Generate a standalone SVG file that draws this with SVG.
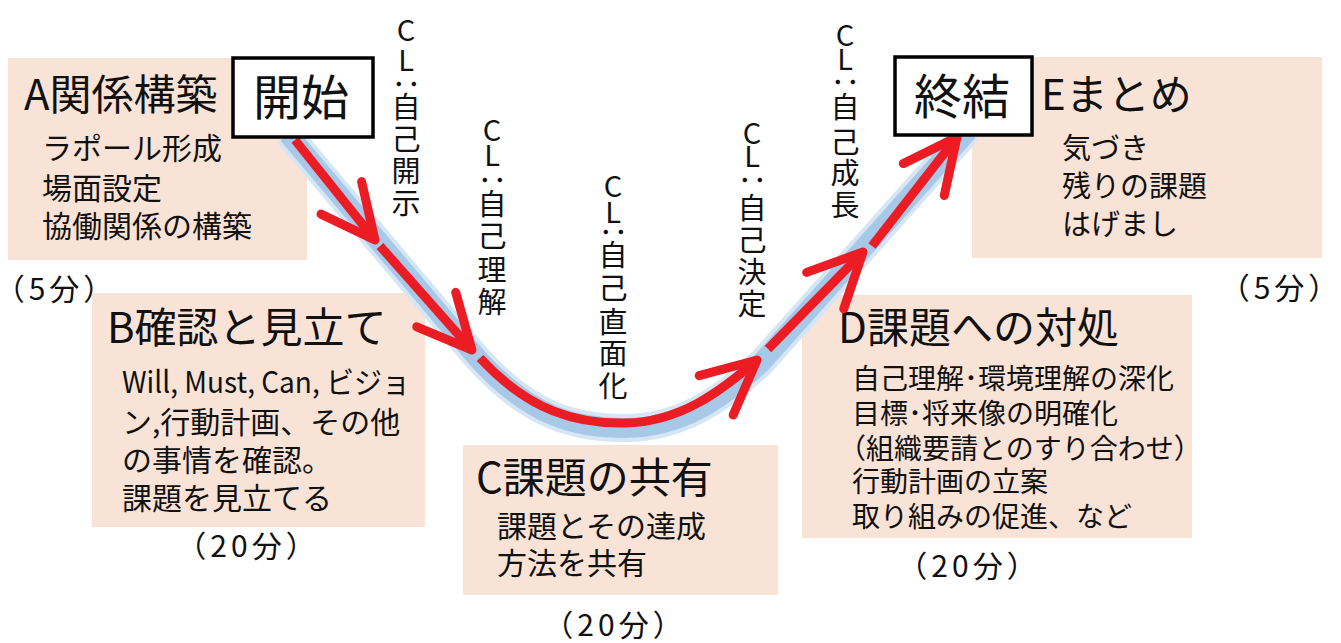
<svg xmlns="http://www.w3.org/2000/svg" width="1341" height="643" viewBox="0 0 1341 643">
<style>
.box{fill:#f9e3d7;}
.lbl{fill:#fff;stroke:#000;stroke-width:3.5;}
.t{font-family:"Noto Sans CJK JP","Noto Sans",sans-serif;fill:#111;}
.title{font-size:42px;}
.big{font-size:48px;}
.body{font-size:30px;}
.bodyd{font-size:28px;}
.bodye{font-size:29px;}
.min{font-size:30px;letter-spacing:4px;text-anchor:middle;}
.vh{font-family:"Noto Sans CJK JP",sans-serif;font-size:29px;text-anchor:middle;dominant-baseline:central;fill:#111;}
.band{fill:none;stroke-linecap:butt;}
.red{fill:none;stroke:#ec1c24;stroke-width:9;stroke-linecap:butt;}
</style>
<defs>
<marker id="ah" markerUnits="userSpaceOnUse" viewBox="-64 -36 72 72" refX="0" refY="0" markerWidth="72" markerHeight="72" orient="auto" overflow="visible">
<path d="M -54 -26 L 0 0 L -54 26" fill="none" stroke="#ec1c24" stroke-width="9" stroke-linecap="round" stroke-linejoin="round"/>
</marker>
</defs>
<rect width="1341" height="643" fill="#fff"/>

<g id="nodeA">
<rect class="box" x="8" y="58" width="299" height="202"/>
<text class="t title" x="24" y="110">A関係構築</text>
<text class="t body" x="42" y="159">ラポール形成</text>
<text class="t body" x="42" y="199">場面設定</text>
<text class="t body" x="42" y="237">協働関係の構築</text>
</g>
<g id="timeA"><text class="t min" x="56" y="300">（5分）</text></g>

<g id="nodeB">
<rect class="box" x="92" y="293" width="333" height="234"/>
<text class="t title" x="107" y="343">B確認と見立て</text>
<text class="t body" x="122" y="393" textLength="288" lengthAdjust="spacingAndGlyphs">Will, Must, Can, ビジョ</text>
<text class="t body" x="122" y="433">ン,行動計画、その他</text>
<text class="t body" x="122" y="471">の事情を確認。</text>
<text class="t body" x="122" y="509">課題を見立てる</text>
</g>
<g id="timeB"><text class="t min" x="248" y="557">（20分）</text></g>

<g id="nodeC">
<rect class="box" x="463" y="445" width="315" height="150"/>
<text class="t title" x="476" y="493">C課題の共有</text>
<text class="t body" x="497" y="537">課題とその達成</text>
<text class="t body" x="497" y="574">方法を共有</text>
</g>
<g id="timeC"><text class="t min" x="615" y="636">（20分）</text></g>

<g id="nodeD">
<rect class="box" x="802" y="295" width="390" height="243"/>
<text class="t title" x="838" y="343">D課題への対処</text>
<text class="t bodyd" x="852" y="389">自己理解･環境理解の深化</text>
<text class="t bodyd" x="852" y="424">目標･将来像の明確化</text>
<text class="t bodyd" x="838" y="459">（組織要請とのすり合わせ）</text>
<text class="t bodyd" x="852" y="492">行動計画の立案</text>
<text class="t bodyd" x="852" y="527">取り組みの促進、など</text>
</g>
<g id="timeD"><text class="t min" x="969" y="577">（20分）</text></g>

<g id="nodeE">
<rect class="box" x="972" y="57" width="350" height="201"/>
<text class="t title" x="1041" y="110">Eまとめ</text>
<text class="t bodye" x="1062" y="159">気づき</text>
<text class="t bodye" x="1062" y="197">残りの課題</text>
<text class="t bodye" x="1062" y="235">はげまし</text>
</g>
<g id="timeE"><text class="t min" x="1281" y="299">（5分）</text></g>

<g id="connectors">
<path class="band" stroke="#d6e6f5" stroke-width="28" d="M 288 134 L 472 352 C 530 420, 580 428, 625 428 C 680 428, 722 400, 762 362 L 968 131"/>
<path class="band" stroke="#a8c8e8" stroke-width="20" d="M 288 134 L 472 352 C 530 420, 580 428, 625 428 C 680 428, 722 400, 762 362 L 968 131"/>
<path class="red" marker-end="url(#ah)" d="M 295 140 L 375 240"/>
<path class="red" marker-end="url(#ah)" d="M 380 246 L 472 350"/>
<path class="red" marker-end="url(#ah)" d="M 480 358 C 530 412, 578 424, 625 423 C 680 422, 720 392, 757 360"/>
<path class="red" marker-end="url(#ah)" d="M 768 349 L 863 252"/>
<path class="red" marker-end="url(#ah)" d="M 872 246 L 957 137"/>
</g>

<g id="nodeStart">
<rect class="lbl" x="233" y="58" width="140" height="79"/>
<text class="t big" x="301" y="115" text-anchor="middle">開始</text>
</g>
<g id="nodeEnd">
<rect class="lbl" x="895" y="57" width="137" height="78"/>
<text class="t big" x="962" y="114" text-anchor="middle">終結</text>
</g>

<g id="stageLabels">
<text class="vh" x="406 406 409.5 406 406 406 406" y="28 58 56.5 105 137 169 201" rotate="0 0 90 0 0 0 0">CL：自己開示</text>
<text class="vh" x="492 492 495.5 492 492 492 492" y="128 153 152.5 202 234 268 300" rotate="0 0 90 0 0 0 0">CL：自己理解</text>
<text class="vh" x="613 613 616.5 613 613 613 613 613" y="184 210 204.5 253 286 320 351 384" rotate="0 0 90 0 0 0 0 0">CL：自己直面化</text>
<text class="vh" x="752 752 755.5 752 752 752 752" y="131 154 152.5 206 238 270 302" rotate="0 0 90 0 0 0 0">CL：自己決定</text>
<text class="vh" x="845 845 848.5 845 845 845 845" y="33 57 54.5 105 140 171 203" rotate="0 0 90 0 0 0 0">CL：自己成長</text>
</g>
</svg>
